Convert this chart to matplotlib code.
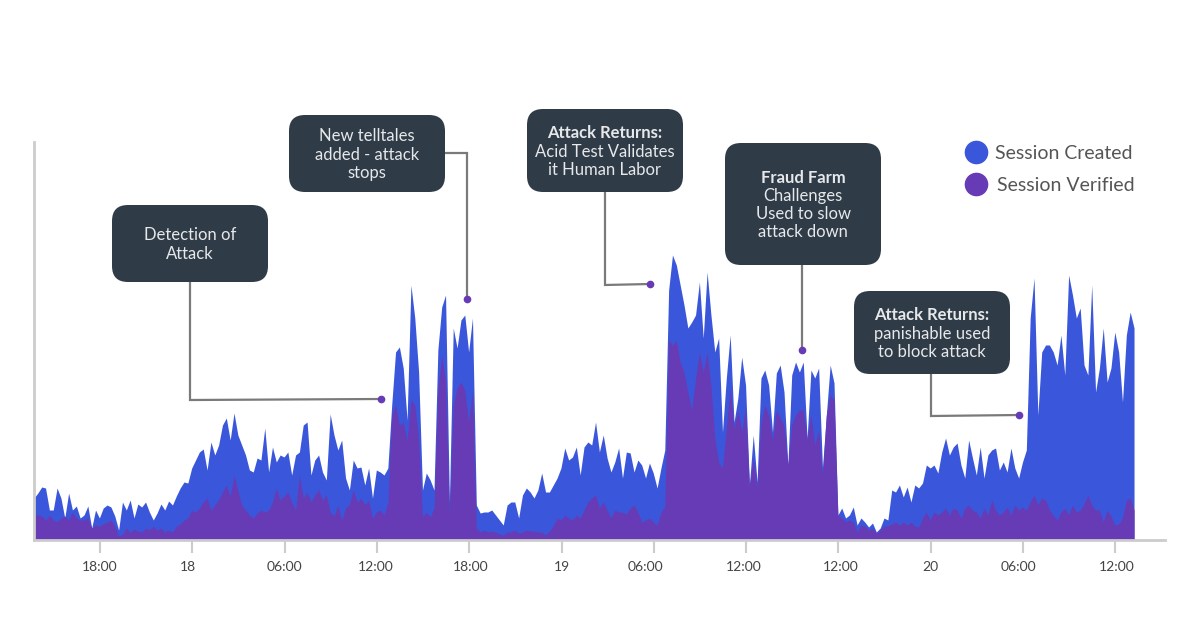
import numpy as np
import matplotlib
matplotlib.use("Agg")
import matplotlib.pyplot as plt
from matplotlib.patches import FancyBboxPatch
from matplotlib.transforms import ScaledTranslation

plt.rcParams["font.family"] = ["Lato", "DejaVu Sans"]

BLUE = "#3a57db"
PURPLE = "#673bb5"
BOX = "#2f3b47"
GREY = "#7a7a7a"
AXIS = "#cccccc"

STEP_H = 0.25  # one sample every 15 minutes

# values, 15 min apart
created = [
    42, 47, 53, 52, 30, 30, 52, 42, 22, 47, 30, 34, 22, 25, 34, 12, 30, 22, 32, 35,
    33, 24, 10, 38, 30, 40, 22, 36, 33, 38, 28, 20, 27, 36, 30, 39, 35, 44, 52, 58,
    57, 72, 80, 88, 91, 70, 98, 85, 95, 115, 122, 100, 127, 105, 95, 85, 70, 68, 82, 80,
    112, 68, 93, 78, 85, 83, 88, 65, 85, 88, 115, 118, 65, 80, 85, 68, 60, 126, 105, 90,
    100, 62, 50, 80, 72, 73, 55, 72, 42, 70, 68, 65, 72,
    135, 188, 193, 172, 120, 255, 222, 168, 50, 67, 60, 50, 190, 233, 245, 38, 212, 192, 220, 225,
    188, 222, 35,
    27, 28, 28, 30, 25, 20, 15, 35, 38, 38, 22, 45, 52, 48, 42, 50, 67, 48, 48, 55,
    62, 72, 92, 80, 83, 93, 65, 93, 98, 95, 118, 88, 105, 82, 68, 78, 92, 62, 88, 87,
    68, 80, 75, 62, 77, 67, 52, 72, 90,
    250, 285, 275, 255, 235, 212, 218, 225, 258, 202, 268, 225, 188, 202, 108, 162, 205, 118, 142, 183,
    155, 55, 105, 58, 162, 170, 155,
    108, 167, 175, 148, 75, 165, 178, 168, 178, 102, 170, 162, 172, 72, 125, 175, 157,
    25, 32, 22, 25, 33, 15, 22, 18, 13, 17, 8, 12, 22, 20, 50, 48, 55, 43, 53, 38,
    55, 52, 57, 75, 72, 75, 67, 88, 102, 85, 93, 97, 75, 62, 100, 82, 65, 93, 62, 85,
    90, 92, 70, 78, 68, 92, 72, 62, 78, 90, 222, 262, 125, 188, 195, 195, 188, 175, 205, 165,
    265, 245, 222, 232, 175, 165, 255, 148, 172, 212, 158, 172, 208, 188, 138, 205, 228, 212, 0,
]

verified = [
    25, 25, 24, 20, 25, 20, 18, 22, 24, 20,
    28, 22, 20, 20, 22, 12, 15, 14, 16, 18,
    20, 14, 4, 6, 12, 8, 11, 9, 8, 12,
    10, 14, 10, 12, 8, 10, 8, 14, 16, 20,
    22, 30, 28, 32, 38, 42, 30, 35, 40, 48,
    55, 44, 65, 50, 35, 30, 25, 22, 27, 30,
    28, 30, 38, 52, 40, 44, 48, 38, 30, 65,
    42, 48, 38, 45, 50, 40, 45, 28, 24, 35,
    20, 32, 36, 50, 38, 42, 35, 40, 22, 28, 30, 25, 38,
    125, 135, 115, 118, 100, 140, 135, 100, 23, 28, 23, 32, 150, 185, 158, 25, 135, 152, 158, 150,
    118, 150, 12,
    8, 10, 8, 9, 8, 6, 5, 8, 8, 10, 7, 8, 10, 9, 9, 8, 8, 5, 9, 14,
    22, 20, 25, 22, 20, 25, 22, 30, 38, 42, 45, 32, 38, 30, 22, 30, 28, 28, 26, 32,
    35, 28, 18, 20, 22, 18, 15, 28, 33,
    200, 195, 200, 178, 168, 148, 130, 162, 188, 168, 188, 155, 102, 78, 72, 112, 152, 112, 130, 108,
    132, 55, 82, 52, 118, 135, 125,
    100, 130, 122, 115, 75, 115, 125, 130, 130, 100, 125, 95, 110, 65, 125, 145, 140,
    25, 22, 18, 20, 18, 8, 15, 14, 10, 12, 7, 10, 14, 14, 16, 18, 15, 18, 15, 18,
    14, 13, 22, 28, 20, 28, 25, 28, 32, 25, 32, 30, 22, 32, 35, 30, 28, 22, 32, 25,
    40, 30, 25, 28, 33, 25, 35, 30, 33, 30, 38, 45, 35, 42, 40, 30, 25, 20, 28, 32,
    25, 35, 28, 30, 36, 45, 35, 30, 30, 18, 30, 24, 15, 16, 22, 40, 42, 30, 0,
]

tick_hours = [4.29 + 6 * k for k in range(12)]
tick_labels = ["18:00", "18", "06:00", "12:00", "18:00", "19", "06:00", "12:00",
               "12:00", "20", "06:00", "12:00"]
label_shift = [0, -4, 0, -1, 1, 0, -8, -2, 2, 0, -5, 1]  # px, labels sit off their ticks

# text, bold first line?, box (x0, y0, x1, y1), connector path in px
callouts = [
    (["Detection of", "Attack"], False, (112, 205, 268, 282),
     [(190, 282), (190, 400), (381, 399)]),
    (["New telltales", "added - attack", "stops"], False, (289, 115, 445, 192),
     [(445, 153), (467, 153), (467, 299)]),
    (["Attack Returns:", "Acid Test Validates", "it Human Labor"], True, (527, 109, 683, 192),
     [(605, 192), (605, 285), (650, 284)]),
    (["Fraud Farm", "Challenges", "Used to slow", "attack down"], True, (725, 143, 881, 265),
     [(802, 265), (802, 350)]),
    (["Attack Returns:", "panishable used", "to block attack"], True, (854, 291, 1010, 374),
     [(931, 374), (931, 416), (1019, 415)]),
]

W, H = 1200, 644
fig = plt.figure(figsize=(W / 100, H / 100), dpi=100, facecolor="white")

# chart
ax = fig.add_axes([34 / W, 1 - 540 / H, (1165 - 34) / W, (540 - 142) / H])
t = np.arange(len(created)) * STEP_H
t[-1] = t[-2]  # series stops dead, no slope down to zero
ax.fill_between(t, 0, created, color=BLUE, linewidth=0)
ax.fill_between(t, 0, verified, color=PURPLE, linewidth=0)
ax.set_xlim(0, (1165 - 34) / 15.385)
ax.set_ylim(0, 398)
ax.set_yticks([])
ax.set_xticks(tick_hours)
ax.set_xticklabels(tick_labels, fontsize=10, color="#444444")
ax.tick_params(axis="x", length=9, width=1.5, color=AXIS, pad=6)
for lab, dx in zip(ax.get_xticklabels(), label_shift):
    lab.set_transform(lab.get_transform() + ScaledTranslation(dx / 100, 0, fig.dpi_scale_trans))
for side in ["top", "right"]:
    ax.spines[side].set_visible(False)
for side in ["left", "bottom"]:
    ax.spines[side].set_color(AXIS)
    ax.spines[side].set_linewidth(2)

# overlay in pixel coordinates for the callouts and legend
ov = fig.add_axes([0, 0, 1, 1], facecolor="none")
ov.set_xlim(0, W)
ov.set_ylim(H, 0)
ov.axis("off")

for lines, bold_first, (x0, y0, x1, y1), path in callouts:
    xs, ys = zip(*path)
    ov.plot(xs, ys, color=GREY, linewidth=1.6, solid_joinstyle="miter", zorder=2)
    ov.plot(xs[-1], ys[-1], "o", color=PURPLE, markersize=4.5, zorder=3)
    r = 16
    ov.add_patch(FancyBboxPatch((x0 + r, y0 + r), x1 - x0 - 2 * r, y1 - y0 - 2 * r,
                                boxstyle=f"round,pad={r},rounding_size={r}",
                                facecolor=BOX, edgecolor="none", zorder=4))
    cx, cy = (x0 + x1) / 2, (y0 + y1) / 2
    for i, line in enumerate(lines):
        y = cy + 1 + (i - (len(lines) - 1) / 2) * 18.2
        ov.text(cx, y, line, ha="center", va="center", fontsize=12, color="#e6e8ea",
                fontweight="bold" if bold_first and i == 0 else "normal", zorder=5)

ov.plot(976, 152, "o", color=BLUE, markersize=16)
ov.plot(976, 184, "o", color=PURPLE, markersize=16)
ov.text(1064, 153, "Session Created", ha="center", va="center", fontsize=14, color="#555555")
ov.text(1066, 185, "Session Verified", ha="center", va="center", fontsize=14, color="#555555")

fig.savefig("out.png", dpi=100)
